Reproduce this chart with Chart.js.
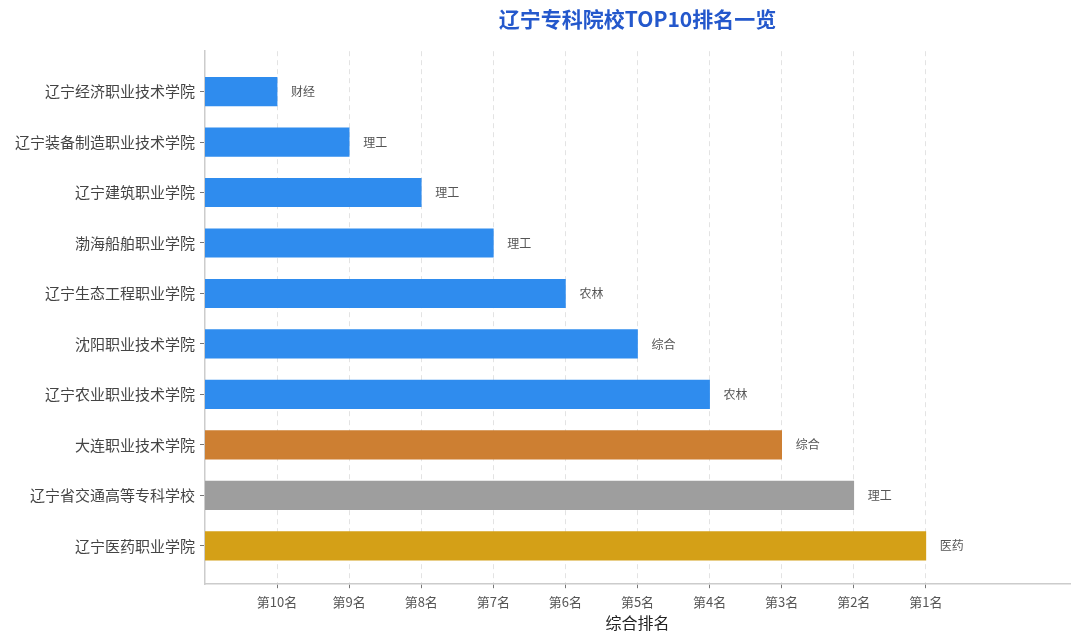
<!DOCTYPE html>
<html>
<head>
<meta charset="utf-8">
<script src="https://cdn.jsdelivr.net/npm/chart.js@4/dist/chart.umd.min.js"></script>
<style>
html,body{margin:0;padding:0;background:#fff;}
#wrap{width:1080px;height:644px;position:relative;}
</style>
</head>
<body>
<div id="wrap"><canvas id="c" width="1080" height="644"></canvas></div>
<script>
const schools = ['辽宁经济职业技术学院','辽宁装备制造职业技术学院','辽宁建筑职业学院','渤海船舶职业学院','辽宁生态工程职业学院','沈阳职业技术学院','辽宁农业职业技术学院','大连职业技术学院','辽宁省交通高等专科学校','辽宁医药职业学院'];
const scores = [1,2,3,4,5,6,7,8,9,10];
const types = ['财经','理工','理工','理工','农林','综合','农林','综合','理工','医药'];
const barColors = ['#2F8CEE','#2F8CEE','#2F8CEE','#2F8CEE','#2F8CEE','#2F8CEE','#2F8CEE','#CD7F32','#9E9E9E','#D4A017'];
const tickValues = [1,2,3,4,5,6,7,8,9,10];
const tickLabels = ['第10名','第9名','第8名','第7名','第6名','第5名','第4名','第3名','第2名','第1名'];

const FONT = '"Noto Sans CJK SC", "Noto Sans", sans-serif';

const typeLabelPlugin = {
  id: 'typeLabels',
  afterDatasetsDraw(chart) {
    const ctx = chart.ctx;
    const meta = chart.getDatasetMeta(0);
    ctx.save();
    ctx.font = '12px ' + FONT;
    ctx.fillStyle = '#555';
    ctx.textAlign = 'left';
    ctx.textBaseline = 'middle';
    meta.data.forEach((el, i) => {
      ctx.fillText(types[i], el.x + 14, el.y);
    });
    ctx.restore();
  }
};

new Chart(document.getElementById('c'), {
  type: 'bar',
  data: {
    datasets: [{
      data: scores.map((v, i) => ({x: v, y: i})),
      backgroundColor: barColors,
      borderWidth: 0,
      barThickness: 28.5
    }]
  },
  options: {
    indexAxis: 'y',
    responsive: false,
    animation: false,
    layout: {padding: {left: 0, right: 10, top: 0, bottom: 11}},
    plugins: {
      legend: {display: false},
      tooltip: {enabled: false},
      title: {
        display: true,
        fullSize: false,
        text: '辽宁专科院校TOP10排名一览',
        color: '#2458CC',
        font: {family: FONT, size: 21, weight: 'bold'},
        padding: {top: 6, bottom: 20}
      }
    },
    scales: {
      x: {
        type: 'linear',
        min: 0,
        max: 12,
        afterBuildTicks(scale) { scale.ticks = tickValues.map(v => ({value: v})); },
        ticks: {
          callback: (v) => tickLabels[tickValues.indexOf(v)],
          color: '#555',
          font: {family: FONT, size: 13},
          padding: 6,
          maxRotation: 0,
          autoSkip: false
        },
        grid: {
          color: '#E3E3E3',
          tickColor: '#777',
          tickLength: 4,
          tickBorderDash: [],
          lineWidth: 1
        },
        border: {display: true, color: '#CCCCCC', width: 1.5, dash: [5, 4]},
        title: {
          display: true,
          text: '综合排名',
          color: '#222',
          font: {family: FONT, size: 16},
          padding: {top: -2, bottom: 0}
        }
      },
      y: {
        type: 'linear',
        min: -0.8,
        max: 9.76,
        reverse: true,
        offset: false,
        bounds: 'data',
        afterBuildTicks(scale) { scale.ticks = schools.map((s, i) => ({value: i})); },
        afterFit(scale) { scale.width = 205; },
        ticks: {
          callback: (v) => schools[v],
          color: '#444',
          font: {family: FONT, size: 15},
          padding: 5,
          autoSkip: false
        },
        grid: {
          offset: false,
          drawOnChartArea: false,
          drawTicks: true,
          tickLength: 5,
          tickColor: '#777',
          color: '#777'
        },
        border: {display: true, color: '#CCCCCC', width: 1.5}
      }
    }
  },
  plugins: [typeLabelPlugin]
});
</script>
</body>
</html>
